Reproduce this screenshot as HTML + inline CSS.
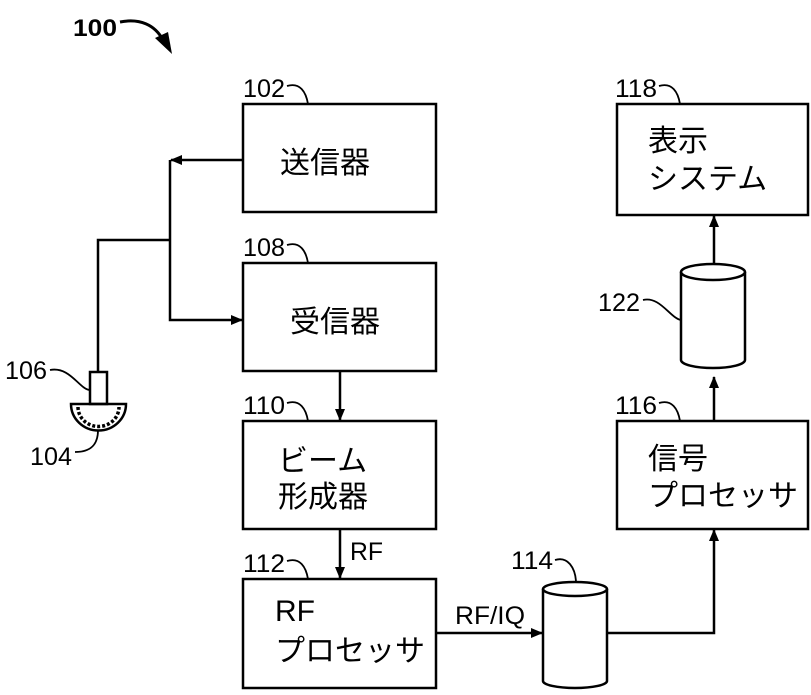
<!DOCTYPE html>
<html><head><meta charset="utf-8"><style>
html,body{margin:0;padding:0;background:#fff}
svg text{font-family:"Liberation Sans","Noto Sans CJK JP",sans-serif;fill:#000}
</style></head><body>
<svg width="811" height="690" viewBox="0 0 811 690" xmlns="http://www.w3.org/2000/svg">
<defs><marker id="a" markerWidth="12" markerHeight="10" refX="11" refY="5" orient="auto" markerUnits="userSpaceOnUse"><path d="M0,0 L12,5 L0,10 Z" fill="#000"/></marker></defs>
<g fill="none" stroke="#000" stroke-width="2.5">
<rect x="243" y="104" width="193" height="108"/>
<rect x="243" y="263" width="193" height="108"/>
<rect x="243" y="421" width="193" height="108"/>
<rect x="243" y="579" width="193" height="109"/>
<rect x="617" y="104" width="191" height="111"/>
<rect x="617" y="421" width="191" height="108"/>
<path d="M681,272 L681,360 A32,8 0 0 0 745,360 L745,272"/>
<ellipse cx="713" cy="272" rx="32" ry="8"/>
<path d="M543,589 L543,681 A32,7 0 0 0 607,681 L607,589"/>
<ellipse cx="575" cy="589" rx="32" ry="7"/>
<line x1="243" y1="160" x2="171" y2="160" marker-end="url(#a)"/>
<polyline points="170,160 170,320 242,320" marker-end="url(#a)"/>
<polyline points="170,240 98,240 98,372"/>
<line x1="340" y1="371" x2="340" y2="420" marker-end="url(#a)"/>
<line x1="340" y1="529" x2="340" y2="578" marker-end="url(#a)"/>
<line x1="436" y1="633" x2="542" y2="633" marker-end="url(#a)"/>
<polyline points="607,633 714,633 714,530" marker-end="url(#a)"/>
<line x1="714" y1="421" x2="714" y2="377" marker-end="url(#a)"/>
<line x1="714" y1="264" x2="714" y2="216" marker-end="url(#a)"/>
<rect x="90" y="372" width="17" height="32"/>
<path d="M71,404 L126,404 A27,26 0 0 1 71,404 Z"/>
<path d="M78,407 A20,19 0 0 0 119,407" stroke-dasharray="3,2" stroke-width="3.5"/>
<path d="M287,86 C300,82 306,92 308,104" stroke-width="1.8"/>
<path d="M287,245 C300,241 306,251 308,263" stroke-width="1.8"/>
<path d="M287,403 C300,399 306,409 308,421" stroke-width="1.8"/>
<path d="M287,561 C300,557 306,567 308,579" stroke-width="1.8"/>
<path d="M659,86 C672,82 678,92 680,104" stroke-width="1.8"/>
<path d="M659,403 C672,399 678,409 680,421" stroke-width="1.8"/>
<path d="M555,560 C568,556 575,568 576,581" stroke-width="1.8"/>
<path d="M643,300 C660,296 670,318 681,320" stroke-width="1.8"/>
<path d="M50,370 C70,366 80,390 90,390" stroke-width="1.8"/>
<path d="M75,452 C95,452 98,440 98,430" stroke-width="1.8"/>
<path d="M120,22 C140,18 155,25 163,40" stroke-width="3"/>
</g>
<path d="M155,38 L172,54 L168,32 Z" fill="#000"/>
<g font-size="25">
<text x="243" y="97" textLength="42" lengthAdjust="spacingAndGlyphs">102</text>
<text x="243" y="256" textLength="42" lengthAdjust="spacingAndGlyphs">108</text>
<text x="243" y="414" textLength="42" lengthAdjust="spacingAndGlyphs">110</text>
<text x="243" y="572" textLength="42" lengthAdjust="spacingAndGlyphs">112</text>
<text x="615" y="97" textLength="42" lengthAdjust="spacingAndGlyphs">118</text>
<text x="615" y="414" textLength="42" lengthAdjust="spacingAndGlyphs">116</text>
<text x="511" y="569" textLength="42" lengthAdjust="spacingAndGlyphs">114</text>
<text x="598" y="311" textLength="42" lengthAdjust="spacingAndGlyphs">122</text>
<text x="5" y="379" textLength="42" lengthAdjust="spacingAndGlyphs">106</text>
<text x="30" y="465" textLength="42" lengthAdjust="spacingAndGlyphs">104</text>
<text x="350" y="560" textLength="33" lengthAdjust="spacingAndGlyphs">RF</text>
<text x="455" y="624" textLength="70" lengthAdjust="spacingAndGlyphs">RF/IQ</text>
</g>
<text x="73" y="36" font-size="24" font-weight="bold" textLength="44" lengthAdjust="spacingAndGlyphs">100</text>
<g font-size="30">
<text x="280" y="173">送信器</text>
<text x="290" y="332">受信器</text>
<text x="278" y="471">ビーム</text>
<text x="278" y="507">形成器</text>
<text x="275" y="621">RF</text>
<text x="275" y="661">プロセッサ</text>
<text x="648" y="151">表示</text>
<text x="648" y="189">システム</text>
<text x="648" y="469">信号</text>
<text x="648" y="506">プロセッサ</text>
</g>
</svg>
</body></html>
